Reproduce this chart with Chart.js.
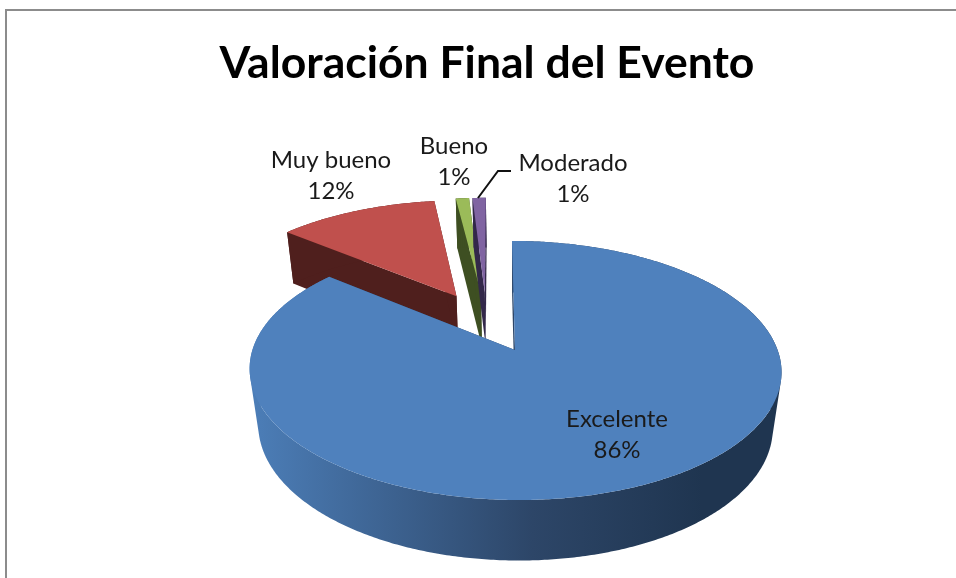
<!DOCTYPE html>
<html lang="es">
<head>
<meta charset="UTF-8">
<title>Valoración Final del Evento</title>
<script src="https://cdn.jsdelivr.net/npm/chart.js"></script>
<style>
  html, body { margin: 0; height: 100%; background: #fff; overflow: hidden; }
  #frame { position: absolute; left: 5px; top: 9px; width: 1000px; height: 700px;
           border-top: 2px solid #8c8c8c; border-left: 2px solid #8c8c8c; }
  #chart { position: absolute; left: 0; top: 0; filter: blur(0.4px); }
</style>
</head>
<body>
<div id="frame"></div>
<canvas id="chart" width="956" height="578"></canvas>
<script>
  const categories = ['Excelente', 'Muy bueno', 'Bueno', 'Moderado'];
  const values = [86, 12, 1, 1];
  const sliceColors = ['#4f81bd', '#c0504d', '#9bbb59', '#8064a2'];
  const wallColors = ['#2d4668', '#4f1f1d', '#3e4f22', '#33284a'];

  // where each label sits on the page (same order as categories)
  const labelX = [617, 331, 454, 573];
  const labelY = [419, 160, 146, 163];

  // perspective of the 3d pie, fitted on the reference
  const view = { x0: 515, y0: 350, a: 262.6, b: 126.3, p: 0.158, h: 57.9, t: 0.033, s: 3.5 };

  function project(u, v, low) {
    const w = 1 - view.p * v + (low ? view.t : 0);
    return {
      x: view.x0 + (view.a * u + view.s * v) / w,
      y: view.y0 + (view.b * v + (low ? view.h : 0)) / w
    };
  }

  const pie3d = {
    id: 'pie3d',
    beforeDatasetsDraw(chart) {
      const ctx = chart.ctx;
      const arcs = chart.getDatasetMeta(0).data;

      // the big slice stays at the origin, others are measured from it
      const first = arcs[0].getProps(['startAngle', 'endAngle']);
      const firstMid = (first.startAngle + first.endAngle) / 2;
      const ox = Math.cos(firstMid) * arcs[0].options.offset;
      const oy = Math.sin(firstMid) * arcs[0].options.offset;

      function arcPoints(arc, low) {
        const p = arc.getProps(['startAngle', 'endAngle', 'outerRadius']);
        const mid = (p.startAngle + p.endAngle) / 2;
        const dx = Math.cos(mid) * arc.options.offset - ox;
        const dy = Math.sin(mid) * arc.options.offset - oy;
        const R = p.outerRadius;
        const pts = [];
        const steps = Math.ceil((p.endAngle - p.startAngle) / 0.01);
        for (let i = 0; i <= steps; i++) {
          const a = p.startAngle + (p.endAngle - p.startAngle) * i / steps;
          pts.push(project((dx + Math.cos(a) * R) / R, (dy + Math.sin(a) * R) / R, low));
        }
        return { pts: pts, apex: project(dx / R, dy / R, low) };
      }

      function addPoly(pts) {
        pts.forEach((q, i) => i ? ctx.lineTo(q.x, q.y) : ctx.moveTo(q.x, q.y));
        ctx.closePath();
      }

      function fillPoly(pts, color) {
        ctx.beginPath();
        addPoly(pts);
        ctx.fillStyle = color;
        ctx.fill();
      }

      function area(pts) {
        let s = 0;
        pts.forEach((q, i) => {
          const r = pts[(i + 1) % pts.length];
          s += q.x * r.y - r.x * q.y;
        });
        return s;
      }

      const blueWall = ctx.createLinearGradient(250, 0, 782, 0);
      blueWall.addColorStop(0, '#4c7eb8');
      blueWall.addColorStop(0.53, '#2d4668');
      blueWall.addColorStop(0.85, '#1f3550');
      blueWall.addColorStop(1, '#1f3550');

      // back slices first, the big one on top of them
      [1, 2, 3, 0].forEach(i => {
        const arc = arcs[i];
        const top = arcPoints(arc, false);
        const low = arcPoints(arc, true);
        const n = top.pts.length - 1;
        fillPoly([top.apex, top.pts[0], low.pts[0], low.apex], wallColors[i]);
        fillPoly([top.apex, top.pts[n], low.pts[n], low.apex], wallColors[i]);
        // one path of small quads, all same winding, so there are no seams
        // and the sides of the wall follow the tangent of both rims
        ctx.beginPath();
        for (let k = 0; k < n; k++) {
          const quad = [top.pts[k], top.pts[k + 1], low.pts[k + 1], low.pts[k]];
          addPoly(area(quad) < 0 ? quad.reverse() : quad);
        }
        ctx.fillStyle = i === 0 ? blueWall : wallColors[i];
        ctx.fill();
        fillPoly([top.apex].concat(top.pts), arc.options.backgroundColor);
      });

      return false; // the arcs are painted above, skip the flat ones
    },
    afterDraw(chart) {
      const ctx = chart.ctx;
      const total = values.reduce((s, v) => s + v, 0);
      ctx.save();
      ctx.fillStyle = '#1a1a1a';
      ctx.font = '24px Lato';
      ctx.textAlign = 'center';
      ctx.textBaseline = 'middle';
      categories.forEach((name, i) => {
        ctx.fillText(name, labelX[i], labelY[i]);
        ctx.fillText(Math.round(values[i] / total * 100) + '%', labelX[i], labelY[i] + 31);
      });
      // leader line of Moderado
      ctx.strokeStyle = '#111';
      ctx.lineWidth = 2;
      ctx.beginPath();
      ctx.moveTo(511, 171);
      ctx.lineTo(498, 171);
      ctx.lineTo(478, 198);
      ctx.stroke();
      ctx.restore();
    }
  };

  new Chart(document.getElementById('chart'), {
    type: 'pie',
    data: {
      labels: categories,
      datasets: [{ data: values, backgroundColor: sliceColors, borderWidth: 0, offset: 25.65 }]
    },
    options: {
      responsive: false,
      animation: false,
      radius: 100,
      layout: { padding: { left: 18, top: 37 } },
      plugins: {
        legend: { display: false },
        tooltip: { enabled: false },
        title: {
          display: true,
          text: 'Valoración Final del Evento',
          color: '#000',
          font: { family: 'Lato', size: 44.5, weight: 'bold' },
          padding: 0
        }
      }
    },
    plugins: [pie3d]
  });
</script>
</body>
</html>
